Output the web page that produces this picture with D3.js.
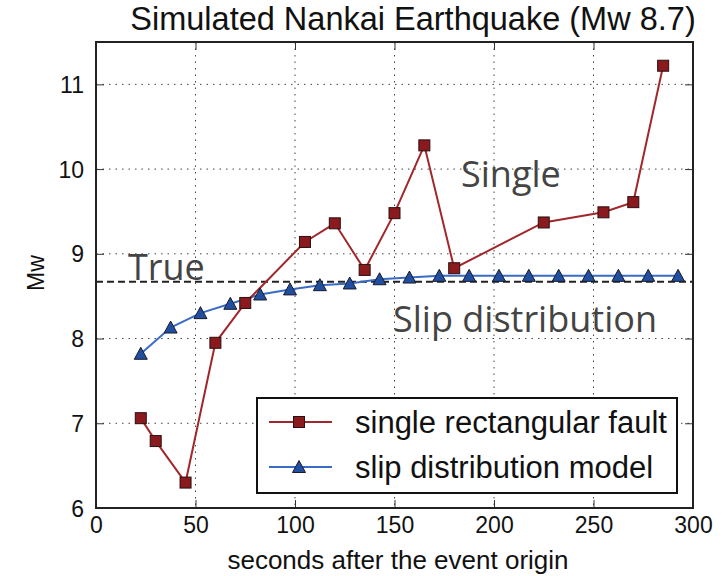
<!DOCTYPE html>
<html>
<head>
<meta charset="utf-8">
<script src="https://cdn.jsdelivr.net/npm/d3@7"></script>
<style>
  body { margin: 0; background: #fff; }
</style>
</head>
<body>
<div id="chart"></div>
<script>
// data
const singleTimes = [22.5, 30, 45, 60, 75, 105, 120, 135, 150, 165, 180, 225, 255, 270, 285];
const singleMw = [7.06, 6.79, 6.30, 7.95, 8.42, 9.14, 9.36, 8.81, 9.48, 10.28, 8.83, 9.37, 9.49, 9.61, 11.22];
const slipTimes = [22.5, 37.5, 52.5, 67.5, 82.5, 97.5, 112.5, 127.5, 142.5, 157.5, 172.5, 187.5, 202.5, 217.5, 232.5, 247.5, 262.5, 277.5, 292.5];
const slipMw = [7.82, 8.13, 8.30, 8.41, 8.52, 8.58, 8.63, 8.65, 8.70, 8.72, 8.74, 8.74, 8.74, 8.74, 8.74, 8.74, 8.74, 8.74, 8.74];
const trueMw = 8.67;
const xTicks = [0, 50, 100, 150, 200, 250, 300];
const yTicks = [6, 7, 8, 9, 10, 11];
const legendLabels = ['single rectangular fault', 'slip distribution model'];

const W = 724, H = 576;
const margin = {left: 96, right: 31, top: 42, bottom: 68};
const pw = W - margin.left - margin.right;
const ph = H - margin.top - margin.bottom;

const svg = d3.select('#chart').append('svg')
	.attr('width', W)
	.attr('height', H)
	.style('font-family', 'Liberation Sans, Arial, sans-serif')

const x = d3.scaleLinear().domain([0, 300]).range([0, pw]);
const y = d3.scaleLinear().domain([6, 11.5]).range([ph, 0]);

const g = svg.append('g').attr('transform', `translate(${margin.left},${margin.top})`)

// grid
g.selectAll('.vgrid').data(xTicks.slice(1, -1)).enter().append('line')
	.attr('x1', d => x(d)).attr('x2', d => x(d))
	.attr('y1', 0).attr('y2', ph)
	.attr('stroke', '#444').attr('stroke-width', 1).attr('stroke-dasharray', '1.5,5')
g.selectAll('.hgrid').data(yTicks.slice(1)).enter().append('line')
	.attr('y1', d => y(d)).attr('y2', d => y(d))
	.attr('x1', 0).attr('x2', pw)
	.attr('stroke', '#444').attr('stroke-width', 1).attr('stroke-dasharray', '1.5,5')

// axes with inward ticks
const xAxis = g.append('g').attr('transform', `translate(0,${ph})`)
	.call(d3.axisBottom(x).tickValues(xTicks).tickSizeInner(-8).tickSizeOuter(0).tickPadding(9))
const yAxis = g.append('g')
	.call(d3.axisLeft(y).tickValues(yTicks).tickFormat(d3.format('d')).tickSizeInner(-8).tickSizeOuter(0).tickPadding(12))
g.append('g').call(d3.axisTop(x).tickValues(xTicks).tickSizeInner(-8).tickSizeOuter(0).tickFormat(''))
g.append('g').attr('transform', `translate(${pw},0)`)
	.call(d3.axisRight(y).tickValues(yTicks).tickSizeInner(-8).tickSizeOuter(0).tickFormat(''))
g.selectAll('.domain').remove()
g.selectAll('.tick line').attr('stroke', '#333').attr('stroke-width', 1)
xAxis.selectAll('text').style('font-size', '23px').attr('fill', '#111')
yAxis.selectAll('text').style('font-size', '23px').attr('fill', '#111').attr('dy', '0.35em')

// true Mw line
g.append('line')
	.attr('x1', 0).attr('x2', pw)
	.attr('y1', y(trueMw)).attr('y2', y(trueMw))
	.attr('stroke', '#222').attr('stroke-width', 2).attr('stroke-dasharray', '7,4')

const line = d3.line().x(d => x(d[0])).y(d => y(d[1]))
const singlePts = singleTimes.map((t, i) => [t, singleMw[i]])
const slipPts = slipTimes.map((t, i) => [t, slipMw[i]])

const redLine = '#a0282c', redFill = '#8b1a1f';
const blueLine = '#3a6cc6', blueFill = '#1f4f9e';

g.append('path').datum(slipPts).attr('d', line)
	.attr('fill', 'none').attr('stroke', blueLine).attr('stroke-width', 2)
g.append('path').datum(singlePts).attr('d', line)
	.attr('fill', 'none').attr('stroke', redLine).attr('stroke-width', 2)

const tri = 'M0,-6.5L6.5,5.5L-6.5,5.5Z';
g.selectAll('.tri').data(slipPts).enter().append('path')
	.attr('d', tri)
	.attr('transform', d => `translate(${x(d[0])},${y(d[1])})`)
	.attr('fill', blueFill).attr('stroke', '#1a1a2a').attr('stroke-width', 1)
g.selectAll('.sq').data(singlePts).enter().append('rect')
	.attr('x', d => x(d[0]) - 5.5).attr('y', d => y(d[1]) - 5.5)
	.attr('width', 11).attr('height', 11)
	.attr('fill', redFill).attr('stroke', '#2a1010').attr('stroke-width', 1)

// frame
g.append('rect').attr('width', pw).attr('height', ph)
	.attr('fill', 'none').attr('stroke', '#222').attr('stroke-width', 2)

// annotations
const ann = g.append('g')
	.style('font-family', 'Open Sans, Noto Sans, sans-serif')
	.attr('fill', '#444')
	.style('font-size', '36px')
ann.append('text').attr('x', 128 - margin.left).attr('y', 280 - margin.top).text('True')
ann.append('text').attr('x', 461 - margin.left).attr('y', 187 - margin.top).text('Single')
ann.append('text').attr('x', 393 - margin.left).attr('y', 332 - margin.top).text('Slip distribution')

// legend
const lg = svg.append('g')
lg.append('rect').attr('x', 257).attr('y', 398).attr('width', 420).attr('height', 95)
	.attr('fill', '#fff').attr('stroke', '#111').attr('stroke-width', 2)
const rows = [
	{label: legendLabels[0], stroke: redLine, fill: redFill, marker: 'sq', cy: 422},
	{label: legendLabels[1], stroke: blueLine, fill: blueFill, marker: 'tri', cy: 467},
];
rows.forEach(r => {
	lg.append('line').attr('x1', 269).attr('x2', 332).attr('y1', r.cy).attr('y2', r.cy)
		.attr('stroke', r.stroke).attr('stroke-width', 2)
	if (r.marker == 'sq') {
		lg.append('rect').attr('x', 299 - 5.5).attr('y', r.cy - 5.5).attr('width', 11).attr('height', 11)
			.attr('fill', r.fill).attr('stroke', '#2a1010').attr('stroke-width', 1)
	} else {
		lg.append('path').attr('d', tri).attr('transform', `translate(299,${r.cy})`)
			.attr('fill', r.fill).attr('stroke', '#1a1a2a').attr('stroke-width', 1)
	}
	lg.append('text').attr('x', 355).attr('y', r.cy).attr('dy', '0.35em')
		.style('font-size', '31px').attr('fill', '#111').text(r.label)
})

// title and axis labels
svg.append('text').attr('x', 413).attr('y', 30)
	.attr('text-anchor', 'middle').style('font-size', '32.5px').attr('fill', '#111')
	.text('Simulated Nankai Earthquake (Mw 8.7)')
svg.append('text').attr('x', 398).attr('y', 569)
	.attr('text-anchor', 'middle').style('font-size', '26px').attr('fill', '#111')
	.text('seconds after the event origin')
svg.append('text').attr('transform', 'translate(44,273) rotate(-90)')
	.attr('text-anchor', 'middle').style('font-size', '23px').attr('fill', '#111')
	.text('Mw')
</script>
</body>
</html>
